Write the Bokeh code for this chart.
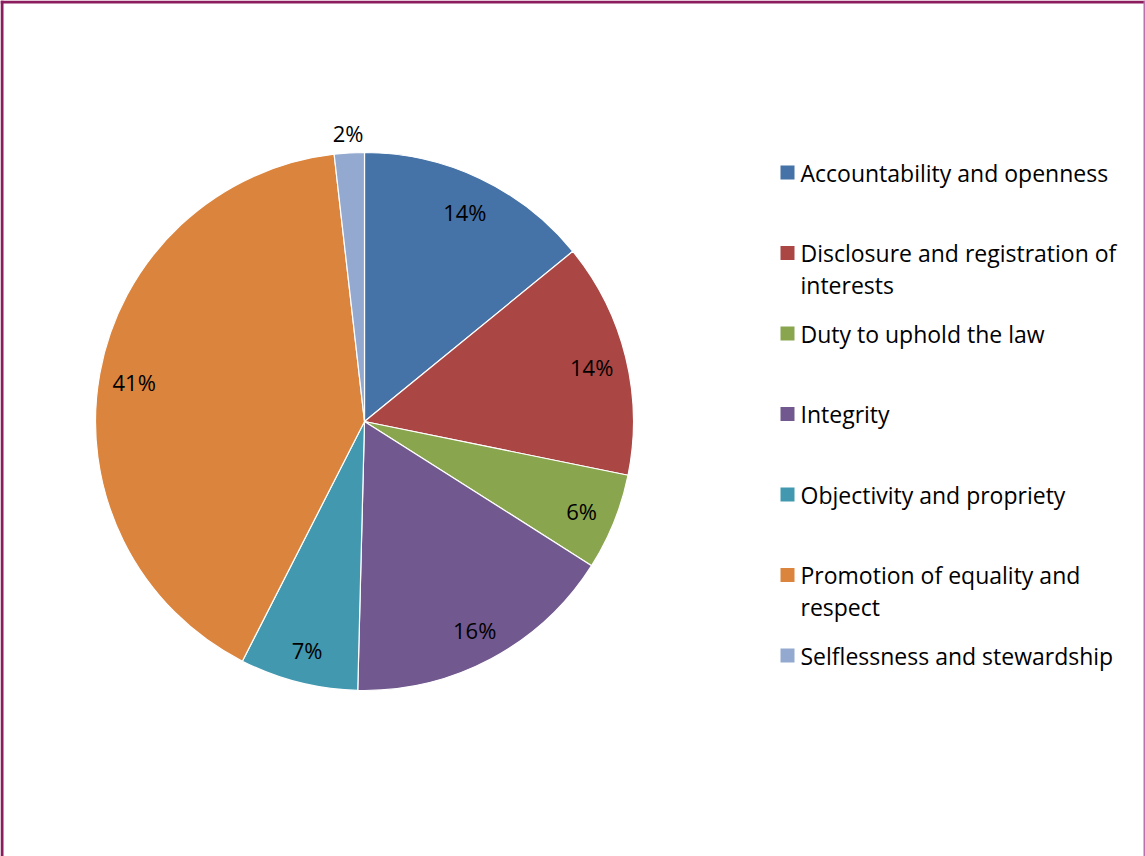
import math
from bokeh.plotting import figure
from bokeh.models import Range1d, ColumnDataSource
from bokeh.core.properties import value
from bokeh.embed import file_html
from bokeh.resources import INLINE

# ---- data ----
categories = [
    "Accountability and openness",
    "Disclosure and registration of interests",
    "Duty to uphold the law",
    "Integrity",
    "Objectivity and propriety",
    "Promotion of equality and respect",
    "Selflessness and stewardship",
]
shares = [14.1, 14.1, 5.8, 16.4, 7.1, 40.7, 1.8]
pct_labels = ["14%", "14%", "6%", "16%", "7%", "41%", "2%"]
legend_lines = [
    ["Accountability and openness"],
    ["Disclosure and registration of", "interests"],
    ["Duty to uphold the law"],
    ["Integrity"],
    ["Objectivity and propriety"],
    ["Promotion of equality and", "respect"],
    ["Selflessness and stewardship"],
]

# ---- style ----
colors = ["#4572A7", "#AA4643", "#89A54E", "#71588F", "#4198AF", "#DB843D", "#93A9CF"]
label_radius_factor = [0.87, 0.87, 0.87, 0.87, 0.87, 0.87, 1.08]
W, H = 1145, 856
FONT = "Open Sans"

p = figure(width=W, height=H, output_backend="svg", toolbar_location=None,
           x_range=Range1d(0, W), y_range=Range1d(0, H), min_border=0)
p.axis.visible = False
p.grid.visible = False
p.outline_line_color = None
p.background_fill_color = "white"
p.border_fill_color = "white"

cx, cy, R = 364, H - 421, 269
total = sum(shares)
starts, ends, mids = [], [], []
cum = 0.0
for s in shares:
    a0 = math.pi / 2 - 2 * math.pi * cum / total
    cum += s
    a1 = math.pi / 2 - 2 * math.pi * cum / total
    starts.append(a0)
    ends.append(a1)
    mids.append((a0 + a1) / 2)

src = ColumnDataSource(dict(start=starts, end=ends, color=colors))
p.wedge(x=cx, y=cy, radius=R, start_angle="start", end_angle="end", direction="clock",
        fill_color="color", line_color="white", line_width=1.2, source=src)

lx = [cx + f * R * math.cos(m) for f, m in zip(label_radius_factor, mids)]
ly = [cy + f * R * math.sin(m) - 2 for f, m in zip(label_radius_factor, mids)]
p.text(x=lx, y=ly, text=pct_labels, text_align="center", text_baseline="middle",
       text_font=value(FONT), text_font_size="22px", text_color="black")

# legend
ys0 = H - 172
step = 80.5
line_h = 32
sq_x, tx = 787, 800
mx, my, tX, tY, tT = [], [], [], [], []
for i, lines in enumerate(legend_lines):
    y = ys0 - step * i
    mx.append(sq_x)
    my.append(y)
    for j, t in enumerate(lines):
        tX.append(tx)
        tY.append(y - j * line_h)
        tT.append(t)
p.rect(x=mx, y=my, width=14, height=14, fill_color=colors, line_color=None)
p.text(x=tX, y=tY, text=tT, text_align="left", text_baseline="middle",
       text_font=value(FONT), text_font_size="23px", text_color="black")

# frame
p.segment(x0=[0, 1.5, W - 1], y0=[H - 1.5, 0, 0], x1=[W, 1.5, W - 1], y1=[H - 1.5, H, H],
          line_color=["#8B1D5E", "#8B1D5E", "#C070A8"], line_width=[3, 3, 2])

open("out.html", "w").write(file_html(p, INLINE))
